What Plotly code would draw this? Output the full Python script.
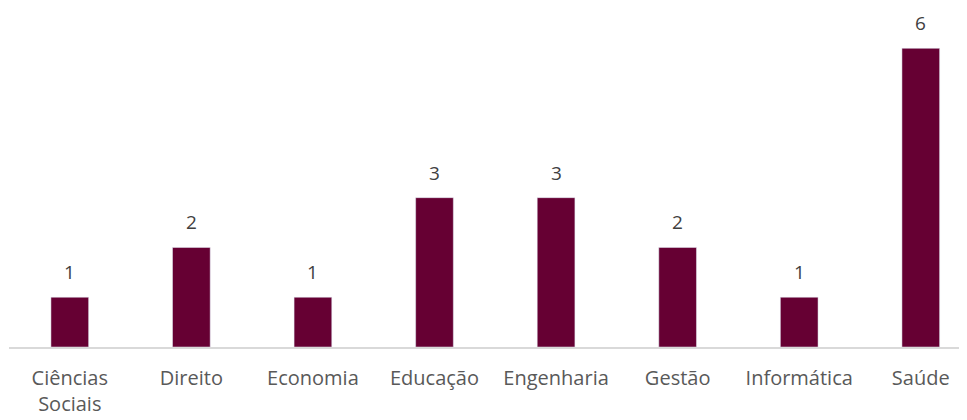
import plotly.graph_objects as go

areas = ["Ciências<br>Sociais", "Direito", "Economia", "Educação", "Engenharia", "Gestão", "Informática", "Saúde"]
counts = [1, 2, 1, 3, 3, 2, 1, 6]
xpos = list(range(len(areas)))

fig = go.Figure()
fig.add_trace(
    go.Bar(
        x=xpos,
        y=counts,
        marker_color="#660033",
        width=0.31,
        hoverinfo="x+y",
    )
)
# value labels above the bars
for xv, yv in zip(xpos, counts):
    fig.add_annotation(
        x=xv,
        y=yv,
        text=str(yv),
        showarrow=False,
        yanchor="middle",
        yshift=25,
        font=dict(size=19, color="#404040"),
    )

fig.update_layout(
    width=967,
    height=420,
    margin=dict(l=1, r=0, t=0, b=81),
    plot_bgcolor="white",
    paper_bgcolor="white",
    font=dict(family="Open Sans, sans-serif", size=20, color="#595959"),
    showlegend=False,
    xaxis=dict(
        tickmode="array",
        tickvals=xpos,
        ticktext=areas,
        range=[-0.5, 7.446],
        showline=True,
        linecolor="#d9d9d9",
        linewidth=2,
        ticks="outside",
        ticklen=12,
        tickcolor="rgba(0,0,0,0)",
        showgrid=False,
        zeroline=False,
    ),
    yaxis=dict(range=[0, 6.81], visible=False, showgrid=False, zeroline=False),
)
fig.write_html("out.html")
